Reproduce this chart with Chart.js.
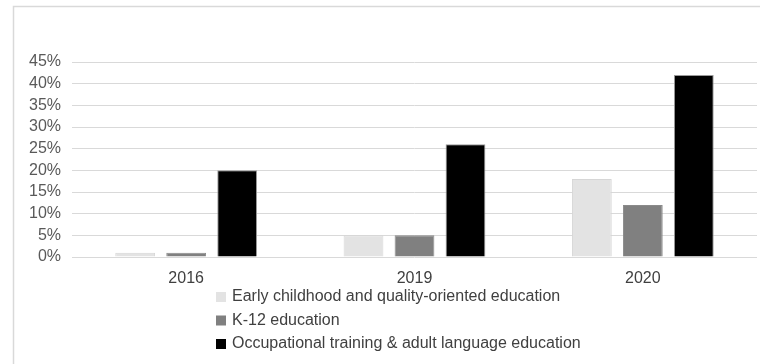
<!DOCTYPE html>
<html>
<head>
<meta charset="utf-8">
<script src="https://cdn.jsdelivr.net/npm/chart.js@4/dist/chart.umd.min.js"></script>
<style>
  html, body { margin: 0; padding: 0; background: #fff; }
  #wrap { position: relative; width: 760px; height: 364px; }
</style>
</head>
<body>
<div id="wrap"><canvas id="c" width="760" height="364"></canvas></div>
<script>
const categories = ['2016', '2019', '2020'];
const seriesNames = [
  'Early childhood and quality-oriented education',
  'K-12 education',
  'Occupational training & adult language education'
];
const earlyChildhood = [1, 5, 18];
const k12 = [1, 5, 12];
const occupational = [20, 26, 42];
const yTicks = [0, 5, 10, 15, 20, 25, 30, 35, 40, 45];

const fills = ['#e3e3e3', '#808080', '#000000'];
const borders = ['#d6d6d6', '#8a8a8a', '#9a9a9a'];
const FONT = '"Liberation Sans", Arial, Helvetica, sans-serif';

const frame = {
  id: 'frame',
  beforeDraw(chart) {
    const ctx = chart.ctx;
    ctx.save();
    ctx.strokeStyle = '#d9d9d9';
    ctx.lineWidth = 1.5;
    ctx.beginPath();
    ctx.moveTo(13.5, 364);
    ctx.lineTo(13.5, 6.5);
    ctx.lineTo(760, 6.5);
    ctx.stroke();
    ctx.restore();
  }
};

const customLegend = {
  id: 'customLegend',
  afterDraw(chart) {
    const ctx = chart.ctx;
    ctx.save();
    ctx.font = '16px ' + FONT;
    ctx.textBaseline = 'middle';
    ctx.textAlign = 'left';
    chart.data.datasets.forEach((ds, i) => {
      const yc = 297 + i * 23.5;
      ctx.fillStyle = ds.backgroundColor;
      ctx.fillRect(216, yc - 5, 10, 10);
      ctx.fillStyle = '#404040';
      ctx.fillText(ds.label, 232, yc);
    });
    ctx.restore();
  }
};

const datasetsSrc = [earlyChildhood, k12, occupational];

new Chart(document.getElementById('c'), {
  type: 'bar',
  data: {
    labels: categories,
    datasets: datasetsSrc.map((arr, i) => ({
      label: seriesNames[i],
      data: arr,
      backgroundColor: fills[i],
      borderColor: borders[i],
      borderWidth: 1,
      categoryPercentage: 0.67,
      barPercentage: 0.78
    }))
  },
  options: {
    responsive: false,
    animation: false,
    devicePixelRatio: 1,
    layout: { padding: { top: 62, right: 3, bottom: 0, left: 0 } },
    plugins: {
      legend: { display: false },
      tooltip: { enabled: false }
    },
    scales: {
      x: {
        grid: { display: false, drawTicks: false },
        border: { display: false },
        ticks: { color: '#404040', font: { family: FONT, size: 16 }, padding: 12 },
        afterFit(scale) { scale.height = 107; }
      },
      y: {
        min: 0,
        max: 45,
        afterBuildTicks(scale) { scale.ticks = yTicks.map(v => ({ value: v })); },
        grid: { color: '#d9d9d9', lineWidth: 1, drawTicks: false },
        border: { display: false },
        ticks: {
          autoSkip: false,
          color: '#595959',
          font: { family: FONT, size: 16 },
          padding: 11,
          callback: v => v + '%'
        },
        afterFit(scale) { scale.width = 72; }
      }
    }
  },
  plugins: [frame, customLegend]
});
</script>
</body>
</html>
